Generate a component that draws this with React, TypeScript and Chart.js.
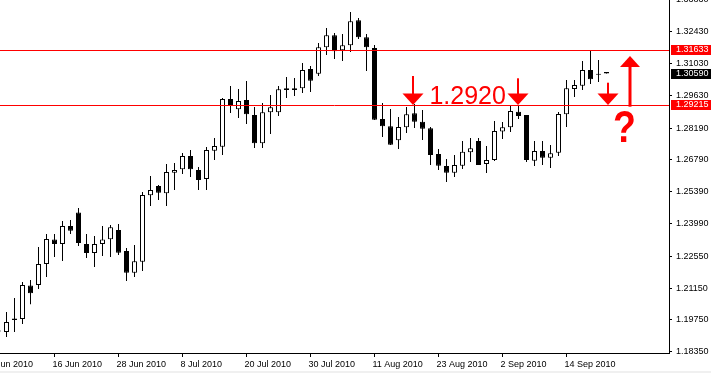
import React, { useEffect, useRef } from "react";
import { Chart, registerables } from "chart.js";
Chart.register(...registerables);

// EURUSD daily candles, index 0 = 7 Jun 2010 (partly hidden at left edge)
const opens = [
  1.19283, 1.19217, 1.19811, 1.19789, 1.21263, 1.21285, 1.22209, 1.23287, 1.23089, 1.23881,
  1.24475, 1.23089, 1.22693, 1.23089, 1.23296, 1.23705, 1.22781, 1.21826, 1.2231, 1.25232,
  1.25641, 1.2532, 1.26226, 1.26376, 1.26961, 1.26345, 1.25949, 1.27194, 1.2737, 1.29469,
  1.29016, 1.29425, 1.28765, 1.2752, 1.28884, 1.28884, 1.2994, 1.2994, 1.2994, 1.30789,
  1.30582, 1.31744, 1.32272, 1.31612, 1.31832, 1.32932, 1.32184, 1.31713, 1.28589, 1.28268,
  1.27652, 1.28224, 1.2884, 1.2847, 1.2818, 1.27049, 1.26521, 1.26226, 1.26534, 1.27124,
  1.27621, 1.26609, 1.26785, 1.28039, 1.28224, 1.2891, 1.28765, 1.26754, 1.27181, 1.26886,
  1.27106, 1.28796, 1.29909, 1.30054, 1.30745, 1.3058, 1.3066,
];
const highs = [
  1.19283, 1.20097, 1.20713, 1.21417, 1.21505, 1.22957, 1.23529, 1.23529, 1.24101, 1.24145,
  1.24673, 1.23529, 1.23441, 1.23881, 1.23925, 1.23969, 1.22913, 1.23045, 1.25377, 1.26081,
  1.25685, 1.26609, 1.26653, 1.27093, 1.27225, 1.26477, 1.27357, 1.27753, 1.29513, 1.30041,
  1.29909, 1.30261, 1.29117, 1.29293, 1.29645, 1.30041, 1.30437, 1.30393, 1.31053, 1.30921,
  1.31933, 1.32593, 1.32373, 1.32329, 1.33297, 1.33033, 1.32329, 1.31845, 1.29293, 1.29029,
  1.28677, 1.29117, 1.29249, 1.28985, 1.28237, 1.27269, 1.26829, 1.27005, 1.27621, 1.27753,
  1.27753, 1.27401, 1.28501, 1.28457, 1.29205, 1.29161, 1.28765, 1.27621, 1.27621, 1.27445,
  1.28897, 1.30305, 1.30305, 1.31141, 1.31625, 1.31185, 1.3066,
];
const lows = [
  1.19217, 1.18997, 1.19217, 1.19569, 1.20436, 1.21109, 1.21637, 1.22517, 1.22341, 1.23529,
  1.23001, 1.22473, 1.22077, 1.22561, 1.22517, 1.22605, 1.21461, 1.21637, 1.21901, 1.24761,
  1.25025, 1.24761, 1.25465, 1.26169, 1.26037, 1.25465, 1.25465, 1.26785, 1.27005, 1.28853,
  1.28633, 1.28369, 1.27313, 1.27313, 1.27929, 1.28721, 1.29513, 1.29601, 1.29733, 1.29777,
  1.30481, 1.31405, 1.31229, 1.31141, 1.31537, 1.32109, 1.30701, 1.28545, 1.27797, 1.27445,
  1.27269, 1.27973, 1.28193, 1.27665, 1.26565, 1.26345, 1.25817, 1.26037, 1.26389, 1.26697,
  1.26565, 1.26213, 1.26741, 1.27709, 1.28017, 1.28589, 1.26697, 1.26521, 1.26565, 1.26433,
  1.26961, 1.28237, 1.29557, 1.29865, 1.30129, 1.30217, 1.3059,
];
const closes = [
  1.19239, 1.19657, 1.19745, 1.21285, 1.2092, 1.22209, 1.23309, 1.23089, 1.23881, 1.23674,
  1.23133, 1.22693, 1.23089, 1.23287, 1.23824, 1.22706, 1.21826, 1.22328, 1.25245, 1.25465,
  1.25346, 1.26257, 1.26345, 1.26961, 1.26376, 1.25905, 1.27225, 1.27401, 1.29469, 1.29205,
  1.29381, 1.28796, 1.2752, 1.28884, 1.29104, 1.29896, 1.29865, 1.29865, 1.30745, 1.30274,
  1.31744, 1.32272, 1.31568, 1.31832, 1.32888, 1.32184, 1.31744, 1.28558, 1.28268, 1.27458,
  1.28237, 1.28796, 1.2847, 1.28162, 1.27005, 1.26534, 1.26226, 1.26565, 1.2715, 1.273,
  1.26565, 1.26785, 1.28061, 1.28224, 1.28941, 1.28721, 1.26785, 1.27181, 1.26886, 1.2708,
  1.28809, 1.2994, 1.30085, 1.30745, 1.30336, 1.30536, 1.3059,
];

const tickIndex = [-1, 7, 15, 23, 31, 39, 47, 55, 63, 71];
const tickLabels = [
  "4 Jun 2010", "16 Jun 2010", "28 Jun 2010", "8 Jul 2010", "20 Jul 2010",
  "30 Jul 2010", "11 Aug 2010", "23 Aug 2010", "2 Sep 2010", "14 Sep 2010",
];
const priceTicks = [
  1.3383, 1.3243, 1.3103, 1.2963, 1.2819, 1.2679, 1.2539, 1.2399, 1.2255, 1.2115, 1.1975, 1.1835,
];
const levelLines = [1.31633, 1.29215];
const currentPrice = 1.3059;

const downArrows = [
  { at: 51.81, from: 1.30481, to: 1.292 },
  { at: 64.9, from: 1.3038, to: 1.292 },
  { at: 76.14, from: 1.30186, to: 1.292 },
];
const upArrows = [{ at: 78.88, from: 1.2913, to: 1.3136 }];
const noteText = { text: "1.2920", at: 53.87, price: 1.29271 };
const questionMark = { text: "?", at: 78.25, price: 1.27577 };

const RED = "#ff0000";
const FONT = "Liberation Sans";

const overlay = {
  id: "overlay",
  afterDatasetsDraw(chart: any) {
    const { ctx, chartArea: a, scales } = chart;
    const x = scales.x;
    const y = scales.y;
    ctx.save();
    ctx.strokeStyle = RED;
    ctx.lineWidth = 1;
    levelLines.forEach((v) => {
      const py = Math.round(y.getPixelForValue(v)) + 0.5;
      ctx.beginPath();
      ctx.moveTo(a.left, py);
      ctx.lineTo(a.right, py);
      ctx.stroke();
    });
    ctx.fillStyle = RED;
    downArrows.forEach((d) => {
      const px = Math.round(x.getPixelForValue(d.at));
      const top = y.getPixelForValue(d.from);
      const tip = y.getPixelForValue(d.to);
      const base = tip - 11.5;
      ctx.fillRect(px - 1, top, 2, base - top + 1);
      ctx.beginPath();
      ctx.moveTo(px - 10.5, base);
      ctx.lineTo(px + 10.5, base);
      ctx.lineTo(px, tip);
      ctx.closePath();
      ctx.fill();
    });
    upArrows.forEach((d) => {
      const px = Math.round(x.getPixelForValue(d.at));
      const bottom = y.getPixelForValue(d.from);
      const tip = y.getPixelForValue(d.to);
      const base = tip + 11;
      ctx.fillRect(px - 1.5, base - 1, 3, bottom - base + 1);
      ctx.beginPath();
      ctx.moveTo(px - 10, base);
      ctx.lineTo(px + 10, base);
      ctx.lineTo(px, tip);
      ctx.closePath();
      ctx.fill();
    });
    ctx.font = `25px "${FONT}"`;
    ctx.textAlign = "left";
    ctx.textBaseline = "alphabetic";
    ctx.fillText(noteText.text, x.getPixelForValue(noteText.at), y.getPixelForValue(noteText.price));
    ctx.save();
    ctx.translate(x.getPixelForValue(questionMark.at), y.getPixelForValue(questionMark.price));
    ctx.scale(0.85, 1);
    ctx.font = `bold 44px "${FONT}"`;
    ctx.textAlign = "center";
    ctx.fillText(questionMark.text, 0, 0);
    ctx.restore();
    ctx.restore();
  },
  afterDraw(chart: any) {
    const { ctx, scales } = chart;
    const y = scales.y;
    ctx.save();
    const boxes = [
      { v: levelLines[0], bg: RED },
      { v: levelLines[1], bg: RED },
      { v: currentPrice, bg: "#000000" },
    ];
    ctx.font = `9px "${FONT}"`;
    ctx.textAlign = "left";
    ctx.textBaseline = "middle";
    boxes.forEach((b) => {
      const py = Math.round(y.getPixelForValue(b.v));
      ctx.fillStyle = b.bg;
      ctx.fillRect(y.left + 2, py - 5, y.right - y.left - 2, 10);
      ctx.fillStyle = "#ffffff";
      ctx.fillText(b.v.toFixed(5), y.left + 7, py);
    });
    ctx.restore();
  },
};

export default function App() {
  const ref = useRef<HTMLCanvasElement | null>(null);
  useEffect(() => {
    document.body.style.margin = "0";
    document.body.style.background = "#f0f0f0";
    const canvas = ref.current;
    if (!canvas) return;
    const bodies = opens.map((o, j) => ({ x: j, y: [o, closes[j]] }));
    const wicks = lows.map((l, j) => ({ x: j, y: [l, highs[j]] }));
    const chart = new Chart(canvas, {
      type: "bar",
      data: {
        datasets: [
          {
            data: bodies as any,
            backgroundColor: opens.map((o, j) => (closes[j] >= o ? "#ffffff" : "#000000")),
            borderColor: "#000000",
            borderWidth: 1,
            borderSkipped: false,
            maxBarThickness: 5,
            grouped: false,
            inflateAmount: 0,
          } as any,
          {
            data: wicks as any,
            backgroundColor: "#000000",
            borderWidth: 0,
            maxBarThickness: 1,
            grouped: false,
            inflateAmount: 0,
          } as any,
        ],
      },
      options: {
        responsive: false,
        animation: false,
        devicePixelRatio: 1,
        layout: { padding: 0 },
        plugins: { legend: { display: false }, tooltip: { enabled: false } },
        scales: {
          x: {
            type: "linear",
            position: "bottom",
            min: 0.1875,
            max: 83.8125,
            offset: false,
            bounds: "data",
            afterBuildTicks: (s: any) => {
              s.ticks = tickIndex.map((v) => ({ value: v }));
            },
            afterFit: (s: any) => {
              s.height = 18;
              s.paddingLeft = 0;
              s.paddingRight = 0;
            },
            ticks: {
              autoSkip: false,
              maxRotation: 0,
              minRotation: 0,
              align: "start",
              labelOffset: -2,
              padding: 2,
              color: "#000000",
              font: { family: FONT, size: 9 },
              callback: (_v: any, i: number) => tickLabels[i],
            },
            grid: { display: true, offset: false, drawOnChartArea: false, drawTicks: true, tickLength: 4, color: "#000000" },
            border: { display: true, color: "#000000", width: 1 },
          } as any,
          y: {
            type: "linear",
            position: "right",
            min: 1.18293,
            max: 1.33825,
            afterBuildTicks: (s: any) => {
              s.ticks = priceTicks.map((v) => ({ value: v }));
            },
            afterFit: (s: any) => {
              s.width = 42;
              s.paddingTop = 0;
              s.paddingBottom = 0;
            },
            ticks: {
              padding: 4,
              color: "#000000",
              font: { family: FONT, size: 9 },
              callback: (v: any) => Number(v).toFixed(5),
            },
            grid: { display: true, drawOnChartArea: false, drawTicks: true, tickLength: 3, color: "#000000" },
            border: { display: true, color: "#000000", width: 1 },
          } as any,
        },
      },
      plugins: [overlay],
    });
    return () => chart.destroy();
  }, []);
  return (
    <div style={{ width: 711, height: 371, background: "#ffffff" }}>
      <canvas ref={ref} width={711} height={371} style={{ display: "block" }} />
    </div>
  );
}
